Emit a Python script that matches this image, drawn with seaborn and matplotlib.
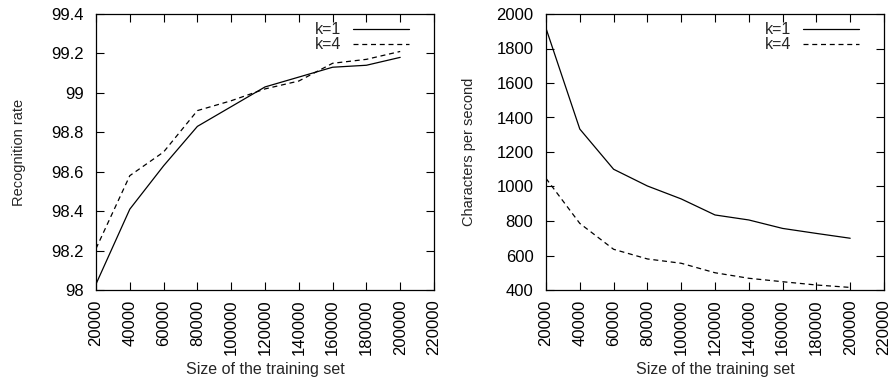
import matplotlib
matplotlib.use('Agg')
import matplotlib.pyplot as plt
import matplotlib.ticker as mticker
import seaborn as sns
import pandas as pd

# Data
train_size = [20000, 40000, 60000, 80000, 100000, 120000, 140000, 160000, 180000, 200000]
rate_k1 = [98.03, 98.41, 98.63, 98.83, 98.93, 99.03, 99.08, 99.13, 99.14, 99.18]
rate_k4 = [98.21, 98.58, 98.70, 98.91, 98.96, 99.02, 99.06, 99.15, 99.17, 99.21]
speed_k1 = [1917, 1333, 1100, 1003, 928, 835, 806, 757, 728, 700]
speed_k4 = [1047, 786, 636, 580, 555, 500, 468, 448, 429, 415]
series_names = ['k=1', 'k=4']
x_ticks = list(range(20000, 220001, 20000))

df_rate = pd.DataFrame({
    'size': train_size * 2,
    'value': rate_k1 + rate_k4,
    'k': [series_names[0]] * len(train_size) + [series_names[1]] * len(train_size),
})
df_speed = pd.DataFrame({
    'size': train_size * 2,
    'value': speed_k1 + speed_k4,
    'k': [series_names[0]] * len(train_size) + [series_names[1]] * len(train_size),
})

sns.set_style('ticks')
plt.rcParams['font.family'] = ['Liberation Sans', 'DejaVu Sans']
plt.rcParams['font.size'] = 10

fig = plt.figure(figsize=(8.94, 3.78), dpi=100)
ax1 = fig.add_axes([96 / 894, 1 - 290 / 378, 338 / 894, 276 / 378])
ax2 = fig.add_axes([546 / 894, 1 - 290 / 378, 338 / 894, 276 / 378])


def draw(ax, df, ylim, ystep, ylabel):
    sns.lineplot(data=df, x='size', y='value', style='k', color='black',
                 dashes=['', (4, 3)], linewidth=0.9, ax=ax)
    ax.set_xlim(20000, 220000)
    ax.set_ylim(*ylim)
    ax.set_xticks(x_ticks)
    ax.set_xticklabels([str(t) for t in x_ticks], rotation=90)
    ax.yaxis.set_major_locator(mticker.MultipleLocator(ystep))
    ax.yaxis.set_major_formatter(mticker.FuncFormatter(lambda v, p: '%g' % round(v, 6)))
    ax.tick_params(direction='in', top=True, right=True, length=5.5, width=0.8,
                   labelsize=12, colors='black')
    ax.tick_params(axis='x', pad=7)
    ax.tick_params(axis='y', pad=9)
    for s in ax.spines.values():
        s.set_linewidth(0.9)
        s.set_color('black')
    ax.set_xlabel('Size of the training set', fontsize=11.5)
    ax.set_ylabel(ylabel, fontsize=10.5)
    ax.yaxis.set_label_coords(-0.207, 0.5)
    ax.xaxis.set_label_coords(0.5, -0.261)
    leg = ax.legend(loc='upper right', bbox_to_anchor=(0.926, 0.97),
                    frameon=False, markerfirst=False,
                    handlelength=3.5, handletextpad=0.75, fontsize=11.5,
                    borderaxespad=0, borderpad=0, labelspacing=0.0)
    for line in leg.get_lines():
        line.set_linewidth(0.9)


draw(ax1, df_rate, (98, 99.4), 0.2, 'Recognition rate')
draw(ax2, df_speed, (400, 2000), 200, 'Characters per second')

fig.savefig('out.png', dpi=100)
